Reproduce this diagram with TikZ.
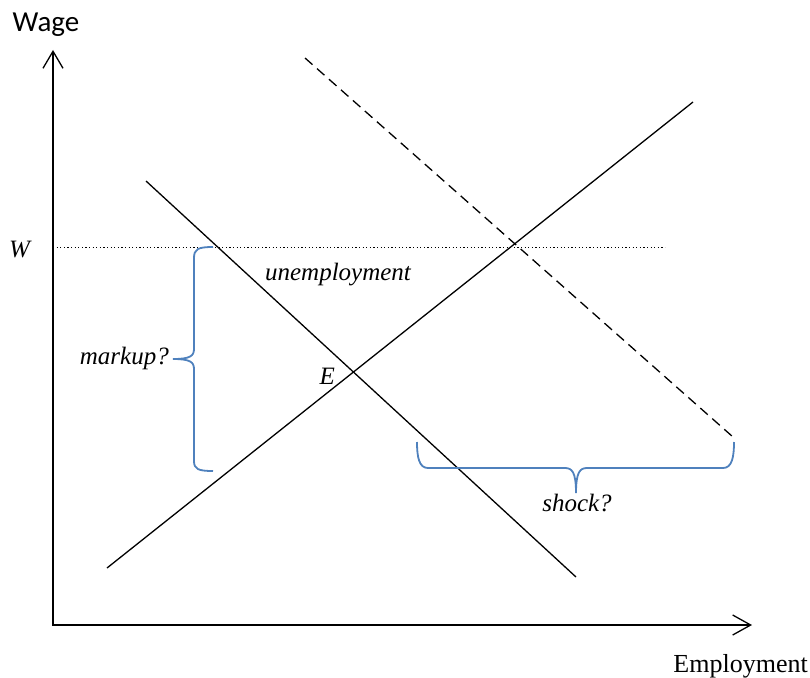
\documentclass[tikz,border=0pt]{standalone}
\usepackage{fontspec}
\setmainfont{Liberation Serif}
\newfontfamily\calibri{Carlito}
\usetikzlibrary{arrows.meta}
\definecolor{braceblue}{RGB}{79,129,189}
\begin{document}
\begin{tikzpicture}[x=1pt,y=-1pt,
    axis/.style={line width=1.3pt,{Straight Barb[length=17pt,width=20pt]}-{Straight Barb[length=18pt,width=20pt]}},
    schedule/.style={line width=1.3pt},
    lbl/.style={font=\fontsize{25}{28}\selectfont\itshape,inner sep=0pt},
    bracepath/.style={draw=braceblue,line width=1.8pt}]
  \useasboundingbox (0,0) rectangle (810,677);
  % axes
  \coordinate (ytop) at (53,50);
  \coordinate (O) at (53,625);
  \coordinate (xend) at (752,625);
  \draw[axis] (ytop) -- (O) -- (xend);
  \node[anchor=base,inner sep=0pt,font=\calibri\fontsize{29}{33}\selectfont] (wage) at (46,32) {Wage};
  \node[anchor=base east,inner sep=0pt,font=\fontsize{26}{30}\selectfont] (empl) at (808,672) {Employment};
  % wage floor
  \coordinate (w0) at (53,247);
  \coordinate (w1) at (665,247);
  \draw[line width=1pt,dash pattern=on 1.2pt off 2.4pt] (w0) -- (w1);
  \node[lbl,anchor=base] (W) at (19.5,257) {W};
  % demand, supply, shifted demand
  \coordinate (d0) at (146,181);
  \coordinate (d1) at (576,577);
  \coordinate (s0) at (107,568);
  \coordinate (s1) at (693,102);
  \coordinate (n0) at (305,58);
  \coordinate (n1) at (733,437);
  \draw[schedule] (d0) -- (d1);
  \draw[schedule] (s0) -- (s1);
  \draw[schedule,dash pattern=on 10pt off 6pt] (n0) -- (n1);
  \node[lbl,anchor=base east] (E) at (335,384) {E};
  \node[lbl,anchor=base] (unemp) at (338,280) {unemployment};
  % braces
  \draw[bracepath] (213,247) .. controls (198,247) and (194,249) .. (194,258)
    -- (194,349) .. controls (194,356) and (190,359) .. (173,359)
    .. controls (190,359) and (194,362) .. (194,369)
    -- (194,461) .. controls (194,469) and (198,471) .. (213,471);
  \node[lbl,anchor=base east] (markup) at (169,364) {markup?};
  \draw[bracepath] (417,442) .. controls (417,457) and (419,468) .. (428,468)
    -- (565,468) .. controls (572,468) and (576,472) .. (576,493)
    .. controls (576,472) and (580,468) .. (587,468)
    -- (723,468) .. controls (732,468) and (734,457) .. (734,442);
  \node[lbl,anchor=base] (shock) at (577,511) {shock?};
\end{tikzpicture}
\end{document}
